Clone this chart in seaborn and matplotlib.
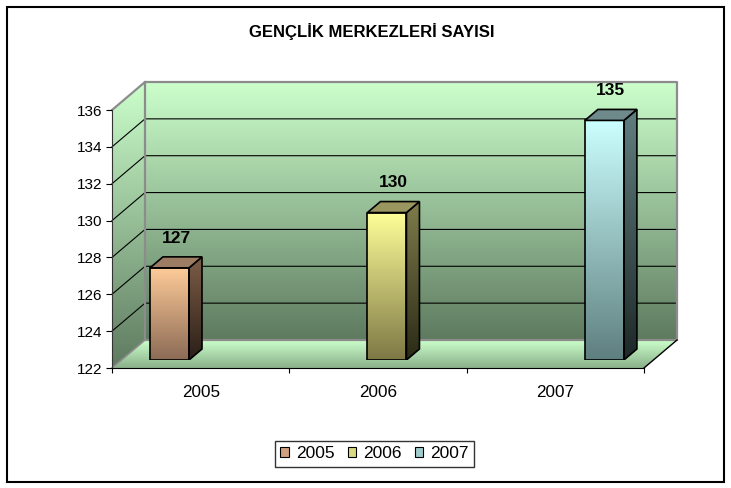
import numpy as np
import matplotlib
matplotlib.use("Agg")
import matplotlib.pyplot as plt
import seaborn as sns
from matplotlib.patches import Polygon, Rectangle
from matplotlib.colors import LinearSegmentedColormap

# chart data
years = ["2005", "2006", "2007"]
counts = [127, 130, 135]
title = "GENÇLİK MERKEZLERİ SAYISI"
y_ticks = [122, 124, 126, 128, 130, 132, 134, 136]

# bar colours (front gradient, side gradient, top face, legend swatch)
front_top = ["#FFCC99", "#FFFF99", "#CCFFFF"]
front_bottom = ["#8B6A55", "#7D7845", "#5F7F7F"]
side_top = ["#7E5E48", "#7F7D4B", "#617F7F"]
side_bottom = ["#2A1F17", "#2A2A16", "#1E2828"]
top_face = ["#9C7C62", "#9A9660", "#6E8A8A"]
legend_colors = ["#D0A080", "#D8D880", "#A0CCCC"]

plt.rcParams["font.family"] = ["Liberation Sans", "DejaVu Sans"]

W, H = 731, 488
fig = plt.figure(figsize=(W / 100, H / 100), dpi=100)
fig.patch.set_facecolor("white")


def box(left, top, right, bottom):
    # pixel box -> figure fraction
    return [left / W, 1 - bottom / H, (right - left) / W, (bottom - top) / H]


def gradient(axis, clip, extent, c_top, c_bottom, z=1):
    cmap = LinearSegmentedColormap.from_list("g", [c_top, c_bottom])
    arr = np.linspace(0, 1, 256).reshape(-1, 1)
    im = axis.imshow(arr, cmap=cmap, extent=extent, aspect="auto", origin="upper",
                     interpolation="bilinear", zorder=z)
    im.set_clip_path(clip)
    return im


# background axes in pixel coordinates for the 3D frame
bg = fig.add_axes([0, 0, 1, 1])
bg.axis("off")

# main axes: front plane, holds the scales and ticks
ax = fig.add_axes(box(112, 110, 644, 368))
ax.set_xlim(-0.5, len(years) - 0.5)
ax.set_ylim(y_ticks[0], y_ticks[-1])
ax.patch.set_alpha(0)

DX, DY = 33, 28  # depth of the 3D box in pixels


def py(v):
    return H - ax.transData.transform((0, v))[1]


x_left, x_right = 112, 644
y_bot, y_top = py(y_ticks[0]), py(y_ticks[-1])

# back wall
wall = Rectangle((x_left + DX, y_top - DY), x_right - x_left, y_bot - y_top,
                 facecolor="none", edgecolor="none")
bg.add_patch(wall)
gradient(bg, wall, (x_left + DX, x_right + DX, y_bot - DY, y_top - DY), "#CCFFCC", "#5E7A5F")

# left side wall
side = Polygon([(x_left, y_bot), (x_left + DX, y_bot - DY), (x_left + DX, y_top - DY),
                (x_left, y_top)], closed=True, facecolor="none", edgecolor="none")
bg.add_patch(side)
gradient(bg, side, (x_left, x_left + DX, y_bot, y_top - DY), "#CCFFCC", "#5E7A5F")

# floor
floor = Polygon([(x_left, y_bot), (x_right, y_bot), (x_right + DX, y_bot - DY),
                 (x_left + DX, y_bot - DY)], closed=True, facecolor="none", edgecolor="none")
bg.add_patch(floor)
gradient(bg, floor, (x_left, x_right + DX, y_bot, y_bot - DY), "#CCFFCC", "#8AB08A")

# gridlines on side wall and back wall
for t in y_ticks[1:-1]:
    y = py(t)
    bg.plot([x_left, x_left + DX, x_right + DX], [y, y - DY, y - DY],
            color="black", lw=0.8, zorder=3)

# frame edges
grey = "#8C8C8C"
bg.plot([x_left, x_left + DX, x_right + DX, x_right + DX, x_left + DX, x_left + DX],
        [y_top, y_top - DY, y_top - DY, y_bot - DY, y_bot - DY, y_top - DY],
        color=grey, lw=1.6, zorder=4)
bg.plot([x_left, x_left + DX], [y_bot, y_bot - DY], color=grey, lw=1.2, zorder=4)
bg.plot([x_right, x_right + DX], [y_bot, y_bot - DY], color="black", lw=1, zorder=4)
bg.set_xlim(0, W)
bg.set_ylim(H, 0)

# axes styling
for s in ["top", "right"]:
    ax.spines[s].set_visible(False)
ax.spines["left"].set_color("#333333")
ax.spines["bottom"].set_color("black")
ax.set_yticks(y_ticks)
ax.set_xticks(range(len(years)), labels=years)
ax.set_xticks(np.arange(len(years) + 1) - 0.5, minor=True)
ax.tick_params(axis="y", left=True, length=4, width=0.8, pad=3, labelsize=11, colors="black")
ax.tick_params(axis="x", which="major", bottom=True, length=0, pad=12, labelsize=12.3)
ax.tick_params(axis="x", which="minor", bottom=True, length=3.6, width=0.8)

# bar axes: bars sit a little behind the front plane
bar_spacing = 217.45
first_center = 169.5
xlim2 = (-(first_center - x_left) / bar_spacing, (x_right - first_center) / bar_spacing)
ax2 = fig.add_axes(box(112, 110 - 8, 644, 368 - 8))
ax2.axis("off")

sns.barplot(x=years, y=counts, hue=years, palette=legend_colors, ax=ax2,
            width=39 / bar_spacing, edgecolor="black", linewidth=1.2, legend=True,
            saturation=1)

handles, labels = ax2.get_legend_handles_labels()
if ax2.legend_ is not None:
    ax2.legend_.remove()

bars = sorted([p for c in ax2.containers for p in c], key=lambda b: b.get_x())

ddx = 13 / bar_spacing
ddy = 11 / (258 / (y_ticks[-1] - y_ticks[0]))
base = y_ticks[0]

for i, p in enumerate(bars):
    v = counts[i]
    x0 = p.get_x()
    x1 = x0 + p.get_width()
    p.set_y(base)
    p.set_height(v - base)
    p.set_facecolor("none")
    p.set_zorder(5)
    gradient(ax2, p, (x0, x1, base, v), front_top[i], front_bottom[i], z=2)

    sp = Polygon([(x1, base), (x1 + ddx, base + ddy), (x1 + ddx, v + ddy), (x1, v)],
                 closed=True, facecolor="none", edgecolor="black", lw=1.2, zorder=5)
    ax2.add_patch(sp)
    gradient(ax2, sp, (x1, x1 + ddx, base, v + ddy), side_top[i], side_bottom[i], z=2)

    tp = Polygon([(x0, v), (x1, v), (x1 + ddx, v + ddy), (x0 + ddx, v + ddy)],
                 closed=True, facecolor=top_face[i], edgecolor="black", lw=1.2, zorder=5)
    ax2.add_patch(tp)

    ax2.annotate(str(v), xy=(i + ddx / 2, v + ddy), xytext=(0, 8),
                 textcoords="offset points", ha="center", va="bottom",
                 fontsize=12.5, fontweight="bold")

ax2.set_xlim(*xlim2)
ax2.set_ylim(y_ticks[0], y_ticks[-1])

# legend
for hnd in handles:
    hnd.set_edgecolor("black")
    hnd.set_linewidth(0.8)
leg = fig.legend(handles, labels, loc="center", bbox_to_anchor=(374.5 / W, 1 - 454 / H),
                 ncol=3, fontsize=12.5, frameon=True, fancybox=False, edgecolor="black",
                 handlelength=0.5, handleheight=0.5, handletextpad=0.4,
                 columnspacing=0.75, borderpad=0.3, borderaxespad=0)
leg.get_frame().set_linewidth(1)

fig.text(372 / W, 1 - 32 / H, title, ha="center", va="center", fontsize=12, fontweight="bold")

# outer chart border
fig.add_artist(Rectangle((7 / W, 1 - 482 / H), 717 / W, 475 / H, transform=fig.transFigure,
                         fill=False, edgecolor="black", lw=1.5))

fig.savefig("out.png", dpi=100, facecolor="white")
